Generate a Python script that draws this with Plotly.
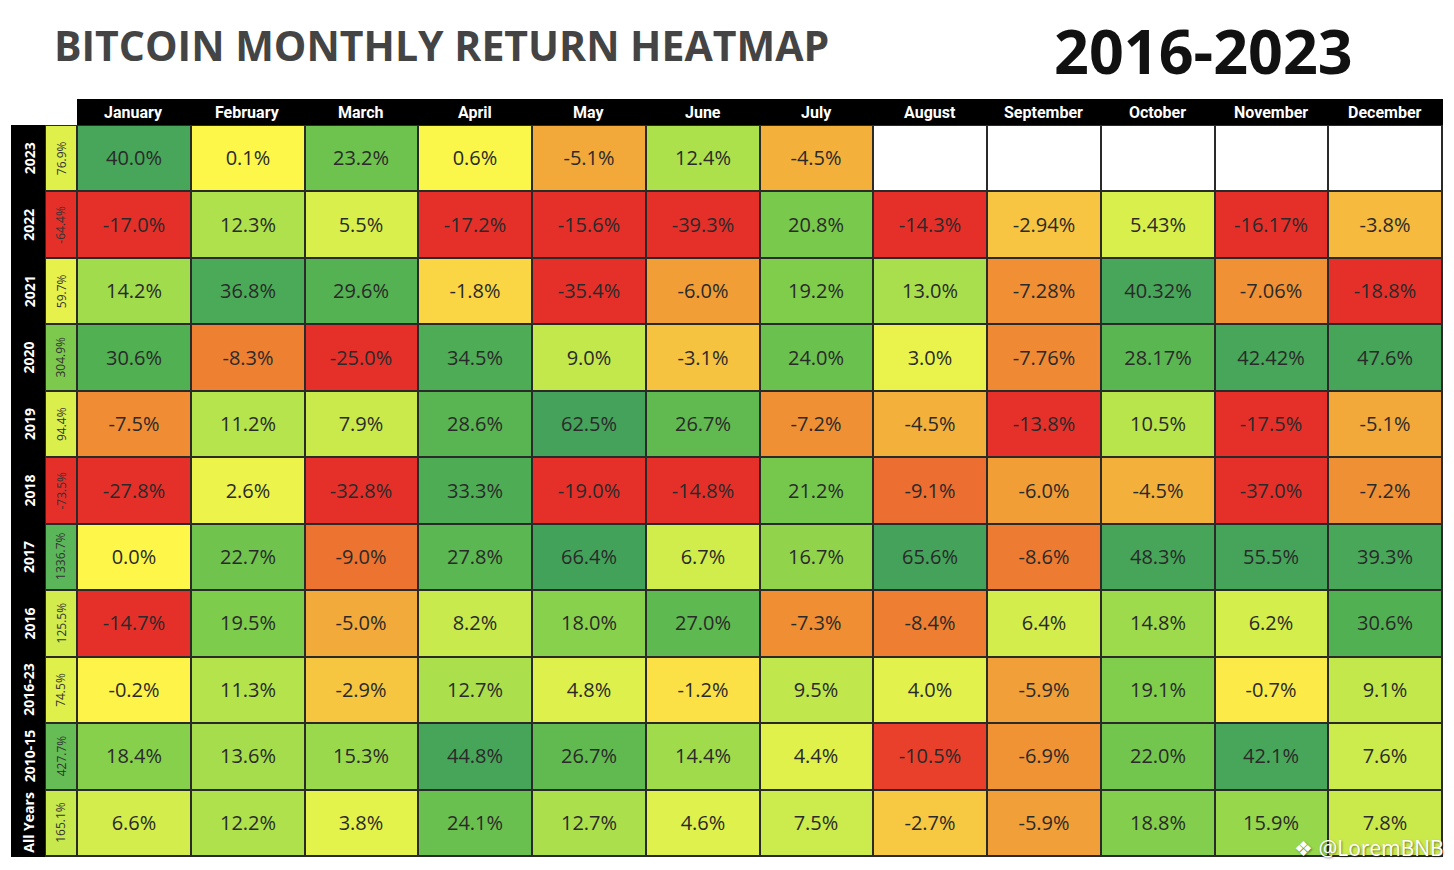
import plotly.graph_objects as go

months = ["January", "February", "March", "April", "May", "June", "July",
          "August", "September", "October", "November", "December"]
row_labels = ["2023", "2022", "2021", "2020", "2019", "2018", "2017", "2016",
              "2016-23", "2010-15", "All Years"]

# monthly returns (%) as printed; None = no data yet
returns_text = [
    ["40.0", "0.1", "23.2", "0.6", "-5.1", "12.4", "-4.5", None, None, None, None, None],
    ["-17.0", "12.3", "5.5", "-17.2", "-15.6", "-39.3", "20.8", "-14.3", "-2.94", "5.43", "-16.17", "-3.8"],
    ["14.2", "36.8", "29.6", "-1.8", "-35.4", "-6.0", "19.2", "13.0", "-7.28", "40.32", "-7.06", "-18.8"],
    ["30.6", "-8.3", "-25.0", "34.5", "9.0", "-3.1", "24.0", "3.0", "-7.76", "28.17", "42.42", "47.6"],
    ["-7.5", "11.2", "7.9", "28.6", "62.5", "26.7", "-7.2", "-4.5", "-13.8", "10.5", "-17.5", "-5.1"],
    ["-27.8", "2.6", "-32.8", "33.3", "-19.0", "-14.8", "21.2", "-9.1", "-6.0", "-4.5", "-37.0", "-7.2"],
    ["0.0", "22.7", "-9.0", "27.8", "66.4", "6.7", "16.7", "65.6", "-8.6", "48.3", "55.5", "39.3"],
    ["-14.7", "19.5", "-5.0", "8.2", "18.0", "27.0", "-7.3", "-8.4", "6.4", "14.8", "6.2", "30.6"],
    ["-0.2", "11.3", "-2.9", "12.7", "4.8", "-1.2", "9.5", "4.0", "-5.9", "19.1", "-0.7", "9.1"],
    ["18.4", "13.6", "15.3", "44.8", "26.7", "14.4", "4.4", "-10.5", "-6.9", "22.0", "42.1", "7.6"],
    ["6.6", "12.2", "3.8", "24.1", "12.7", "4.6", "7.5", "-2.7", "-5.9", "18.8", "15.9", "7.8"],
]
annual_text = ["76.9", "-64.4", "59.7", "304.9", "94.4", "-73.5", "1336.7",
               "125.5", "74.5", "427.7", "165.1"]

title_text = "BITCOIN MONTHLY RETURN HEATMAP"
period_text = "2016-2023"
watermark = "❖ @LoremBNB"

# ---- derived arrays ----
z = [[float(v) if v is not None else None for v in row] for row in returns_text]
cell_text = [[(v + "%") if v is not None else "" for v in row] for row in returns_text]
empty_mask = [[1 if v is None else None for v in row] for row in returns_text]
z_annual = [[float(v)] for v in annual_text]
annual_lbl = [v + "%" for v in annual_text]

def scale(stops, lo, hi):
    return [[(v - lo) / (hi - lo), c] for v, c in stops]

m_lo, m_hi = -14, 70
month_scale = scale([(-14, "#e5302a"), (-10, "#e8422b"), (-9, "#ec7330"), (-8, "#ef8632"),
                     (-5, "#f2aa3a"), (-2, "#f9d244"), (0, "#fef74a"), (5, "#dcf04c"),
                     (12, "#b0e24c"), (20, "#7bcb4c"), (30, "#52b152"), (40, "#47a659"),
                     (70, "#43a15a")],
                    m_lo, m_hi)
a_lo, a_hi = -50, 1400
annual_scale = scale([(-50, "#e5302a"), (0, "#fef74a"), (80, "#def04b"), (130, "#d0ec4c"),
                      (170, "#c6e94d"), (300, "#7ec94e"), (430, "#66bd55"), (1400, "#5ab65a")],
                     a_lo, a_hi)

# page has an 8px body margin: size the figure so it fits the 1454x870 window
OFF = 8
W, H = 1454 - 2 * OFF, 870 - 2 * OFF
px = lambda x: (x - OFF) / W
py = lambda y: 1 - (y - OFF) / H

x_l, x_r = 77, 1442
y_t, y_b = 125, 856

fig = go.Figure()

rows_idx = list(range(len(row_labels)))
cols_idx = list(range(len(months)))

fig.add_trace(go.Heatmap(
    z=z, x=cols_idx, y=rows_idx, text=cell_text, texttemplate="%{text}",
    textfont=dict(family="Open Sans", size=20, color="#2a2a2a"),
    colorscale=month_scale, zmin=m_lo, zmax=m_hi, showscale=False,
    xgap=2, ygap=2, hoverinfo="skip", xaxis="x", yaxis="y"))
fig.add_trace(go.Heatmap(
    z=empty_mask, x=cols_idx, y=rows_idx,
    colorscale=[[0, "white"], [1, "white"]], showscale=False,
    xgap=2, ygap=2, hoverinfo="skip", xaxis="x", yaxis="y"))
fig.add_trace(go.Heatmap(
    z=z_annual, x=[0], y=rows_idx,
    colorscale=annual_scale, zmin=a_lo, zmax=a_hi, showscale=False,
    xgap=2, ygap=2, hoverinfo="skip", xaxis="x2", yaxis="y"))

ax_common = dict(showgrid=False, zeroline=False, showticklabels=False, ticks="", fixedrange=True)
fig.update_layout(
    width=W, height=H, margin=dict(l=0, r=0, t=0, b=0),
    paper_bgcolor="white", plot_bgcolor="#2a2a2a",
    xaxis=dict(domain=[px(x_l), px(x_r)], range=[-0.5, 11.5], **ax_common),
    xaxis2=dict(domain=[px(45), px(x_l)], range=[-0.5, 0.5], **ax_common),
    yaxis=dict(domain=[py(y_b), py(y_t)], range=[10.5, -0.5], **ax_common),
    showlegend=False,
)

shapes = [
    dict(type="rect", xref="paper", yref="paper", x0=px(x_l), x1=px(x_r + 1),
         y0=py(y_t), y1=py(99), fillcolor="#000000", line_width=0, layer="above"),
    dict(type="rect", xref="paper", yref="paper", x0=px(11), x1=px(46),
         y0=py(y_b + 1), y1=py(y_t), fillcolor="#000000", line_width=0, layer="below"),
    dict(type="rect", xref="paper", yref="paper", x0=px(45), x1=px(x_r + 1),
         y0=py(y_b + 1), y1=py(y_t), fillcolor="#2a2a2a", line_width=0, layer="below"),
]
fig.update_layout(shapes=shapes)

ann = []
for i, m in enumerate(months):
    ann.append(dict(x=i, xref="x", y=py(112), yref="paper", text=m, showarrow=False,
                    xanchor="center", yanchor="middle",
                    font=dict(family="Liberation Sans Narrow, Roboto, sans-serif", size=16,
                              color="white", weight="bold")))
for j, r in enumerate(row_labels):
    ann.append(dict(x=px(29), xref="paper", y=j, yref="y", text=r, showarrow=False,
                    textangle=-90, xanchor="center", yanchor="middle",
                    font=dict(family="Open Sans", size=14, color="white", weight="bold")))
    ann.append(dict(x=0, xref="x2", y=j, yref="y", text=annual_lbl[j], showarrow=False,
                    textangle=-90, xanchor="center", yanchor="middle",
                    font=dict(family="Open Sans", size=12, color="#333333")))
ann.append(dict(x=px(52), xref="paper", y=py(45), yref="paper", text=title_text,
                xanchor="left", yanchor="middle", showarrow=False,
                font=dict(family="Open Sans", size=41, color="#444444", weight="bold")))
ann.append(dict(x=px(1203), xref="paper", y=py(50), yref="paper", text=period_text,
                xanchor="center", yanchor="middle", showarrow=False,
                font=dict(family="Open Sans", size=61, color="#111111", weight="bold")))
ann.append(dict(x=px(1446), xref="paper", y=py(848), yref="paper", text=watermark,
                xanchor="right", yanchor="middle", showarrow=False,
                font=dict(family="Open Sans", size=21, color="white",
                          shadow="1px 1px 2px rgba(0,0,0,0.45)")))
fig.update_layout(annotations=ann)

fig.write_html("out.html", config={"displayModeBar": False})
